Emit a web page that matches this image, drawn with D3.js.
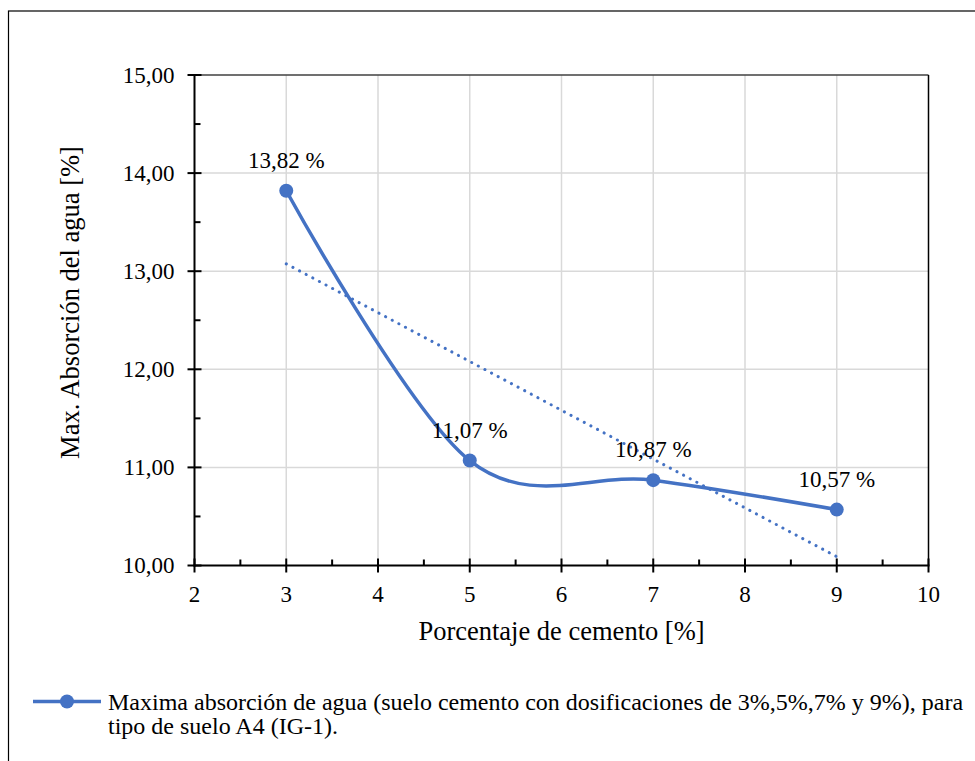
<!DOCTYPE html>
<html>
<head>
<meta charset="utf-8">
<script src="https://cdn.jsdelivr.net/npm/d3@7"></script>
<style>
  body { margin: 0; background: #fff; }
  svg { display: block; }
  svg text { font-family: "Liberation Serif", "Times New Roman", serif; }
</style>
</head>
<body>
<svg id="chart" width="975" height="761" font-family="Liberation Serif, serif"></svg>
<script>
// Cement dosage (%) and maximum water absorption (%)
const cementPct = [3, 5, 7, 9];
const absorption = [13.82, 11.07, 10.87, 10.57];
const pointLabels = ["13,82 %", "11,07 %", "10,87 %", "10,57 %"];

const xTicks = [2, 3, 4, 5, 6, 7, 8, 9, 10];
const xMinorTicks = [2.5, 3.5, 4.5, 5.5, 6.5, 7.5, 8.5, 9.5];
const yTicks = [10, 11, 12, 13, 14, 15];
const yMinorTicks = [10.5, 11.5, 12.5, 13.5, 14.5];
const yTickLabels = ["10,00", "11,00", "12,00", "13,00", "14,00", "15,00"];

const xTitle = "Porcentaje de cemento [%]";
const yTitle = "Max. Absorción del agua [%]";
const legendLines = [
  "Maxima absorción de agua (suelo cemento con dosificaciones de 3%,5%,7% y 9%), para",
  "tipo de suelo A4 (IG-1)."
];

const blue = "#4472C4";
const svg = d3.select("#chart");

svg.append("rect").attr("width", 975).attr("height", 761).attr("fill", "#fff");
// outer chart frame (right and bottom edges fall outside the page)
svg.append("rect")
  .attr("x", 8.5).attr("y", 11)
  .attr("width", 1000).attr("height", 800)
  .attr("fill", "none").attr("stroke", "#000").attr("stroke-width", 1.2);

const x = d3.scaleLinear().domain([2, 10]).range([194.5, 928.5]);
const y = d3.scaleLinear().domain([10, 15]).range([565.5, 75]);

const points = cementPct.map((c, i) => ({ x: c, y: absorption[i], label: pointLabels[i] }));

// gridlines
const grid = svg.append("g").attr("stroke", "#d9d9d9").attr("stroke-width", 1.5);
grid.selectAll("line.v").data(xTicks.slice(1, -1)).join("line")
  .attr("x1", d => x(d)).attr("x2", d => x(d))
  .attr("y1", y(15)).attr("y2", y(10));
grid.selectAll("line.h").data(yTicks.slice(1, -1)).join("line")
  .attr("x1", x(2)).attr("x2", x(10))
  .attr("y1", d => y(d)).attr("y2", d => y(d));

// plot frame: top and right edges
svg.append("line")
  .attr("x1", x(2)).attr("x2", x(10)).attr("y1", y(15)).attr("y2", y(15))
  .attr("stroke", "#404040").attr("stroke-width", 1.5);
svg.append("line")
  .attr("x1", x(10)).attr("x2", x(10)).attr("y1", y(15)).attr("y2", y(10))
  .attr("stroke", "#000").attr("stroke-width", 1.5);

// linear trendline (least squares over the measured points)
const mx = d3.mean(cementPct), my = d3.mean(absorption);
const slope = d3.sum(cementPct, (c, i) => (c - mx) * (absorption[i] - my)) /
              d3.sum(cementPct, c => (c - mx) * (c - mx));
const intercept = my - slope * mx;
const xExt = d3.extent(cementPct);
svg.append("line")
  .attr("x1", x(xExt[0])).attr("y1", y(intercept + slope * xExt[0]))
  .attr("x2", x(xExt[1])).attr("y2", y(intercept + slope * xExt[1]))
  .attr("stroke", blue).attr("stroke-width", 3)
  .attr("stroke-linecap", "round")
  .attr("stroke-dasharray", "0.1 7.4");

// smoothed series line
const line = d3.line().x(d => x(d.x)).y(d => y(d.y)).curve(d3.curveCardinal.tension(0));
svg.append("path").datum(points)
  .attr("d", line)
  .attr("fill", "none").attr("stroke", blue).attr("stroke-width", 3.5)
  .attr("stroke-linecap", "round");

svg.selectAll("circle.pt").data(points).join("circle")
  .attr("cx", d => x(d.x)).attr("cy", d => y(d.y)).attr("r", 7)
  .attr("fill", blue);

// data labels
svg.selectAll("text.lbl").data(points).join("text")
  .attr("x", d => x(d.x)).attr("y", d => y(d.y) - 23)
  .attr("text-anchor", "middle").attr("font-size", 23).attr("fill", "#000")
  .text(d => d.label);

// axes
const ax = svg.append("g").attr("stroke", "#000").attr("stroke-width", 2);
ax.append("line").attr("x1", x(2)).attr("x2", x(2)).attr("y1", y(15) - 1).attr("y2", y(10) + 1);
ax.append("line").attr("x1", x(2) - 1).attr("x2", x(10) + 1).attr("y1", y(10)).attr("y2", y(10));
// y major ticks (cross) and minor ticks (inside)
ax.selectAll("line.ymaj").data(yTicks).join("line")
  .attr("x1", x(2) - 7).attr("x2", x(2) + 7)
  .attr("y1", d => y(d)).attr("y2", d => y(d));
ax.selectAll("line.ymin").data(yMinorTicks).join("line")
  .attr("x1", x(2)).attr("x2", x(2) + 6)
  .attr("y1", d => y(d)).attr("y2", d => y(d));
// x major ticks (cross) and minor ticks (inside)
ax.selectAll("line.xmaj").data(xTicks).join("line")
  .attr("x1", d => x(d)).attr("x2", d => x(d))
  .attr("y1", y(10) - 7).attr("y2", y(10) + 7);
ax.selectAll("line.xmin").data(xMinorTicks).join("line")
  .attr("x1", d => x(d)).attr("x2", d => x(d))
  .attr("y1", y(10) - 6).attr("y2", y(10));

// tick labels
svg.selectAll("text.yt").data(yTicks).join("text")
  .attr("x", x(2) - 20).attr("y", d => y(d)).attr("dy", "0.34em")
  .attr("text-anchor", "end").attr("font-size", 23)
  .text((d, i) => yTickLabels[i]);
svg.selectAll("text.xt").data(xTicks).join("text")
  .attr("x", d => x(d)).attr("y", 602)
  .attr("text-anchor", "middle").attr("font-size", 23)
  .text(d => d);

// axis titles
svg.append("text")
  .attr("x", (x(2) + x(10)) / 2).attr("y", 640)
  .attr("text-anchor", "middle").attr("font-size", 26.5)
  .text(xTitle);
svg.append("text")
  .attr("transform", `translate(79, ${(145 + 460) / 2}) rotate(-90)`)
  .attr("text-anchor", "middle").attr("font-size", 26.5)
  .text(yTitle);

// legend
const lg = svg.append("g");
lg.append("line").attr("x1", 33).attr("x2", 101).attr("y1", 701.5).attr("y2", 701.5)
  .attr("stroke", blue).attr("stroke-width", 3.5);
lg.append("circle").attr("cx", 67).attr("cy", 701.5).attr("r", 7).attr("fill", blue);
const lt = lg.append("text").attr("font-size", 24);
lt.selectAll("tspan").data(legendLines).join("tspan")
  .attr("x", 108).attr("y", (d, i) => 710 + i * 24)
  .text(d => d);
</script>
</body>
</html>
